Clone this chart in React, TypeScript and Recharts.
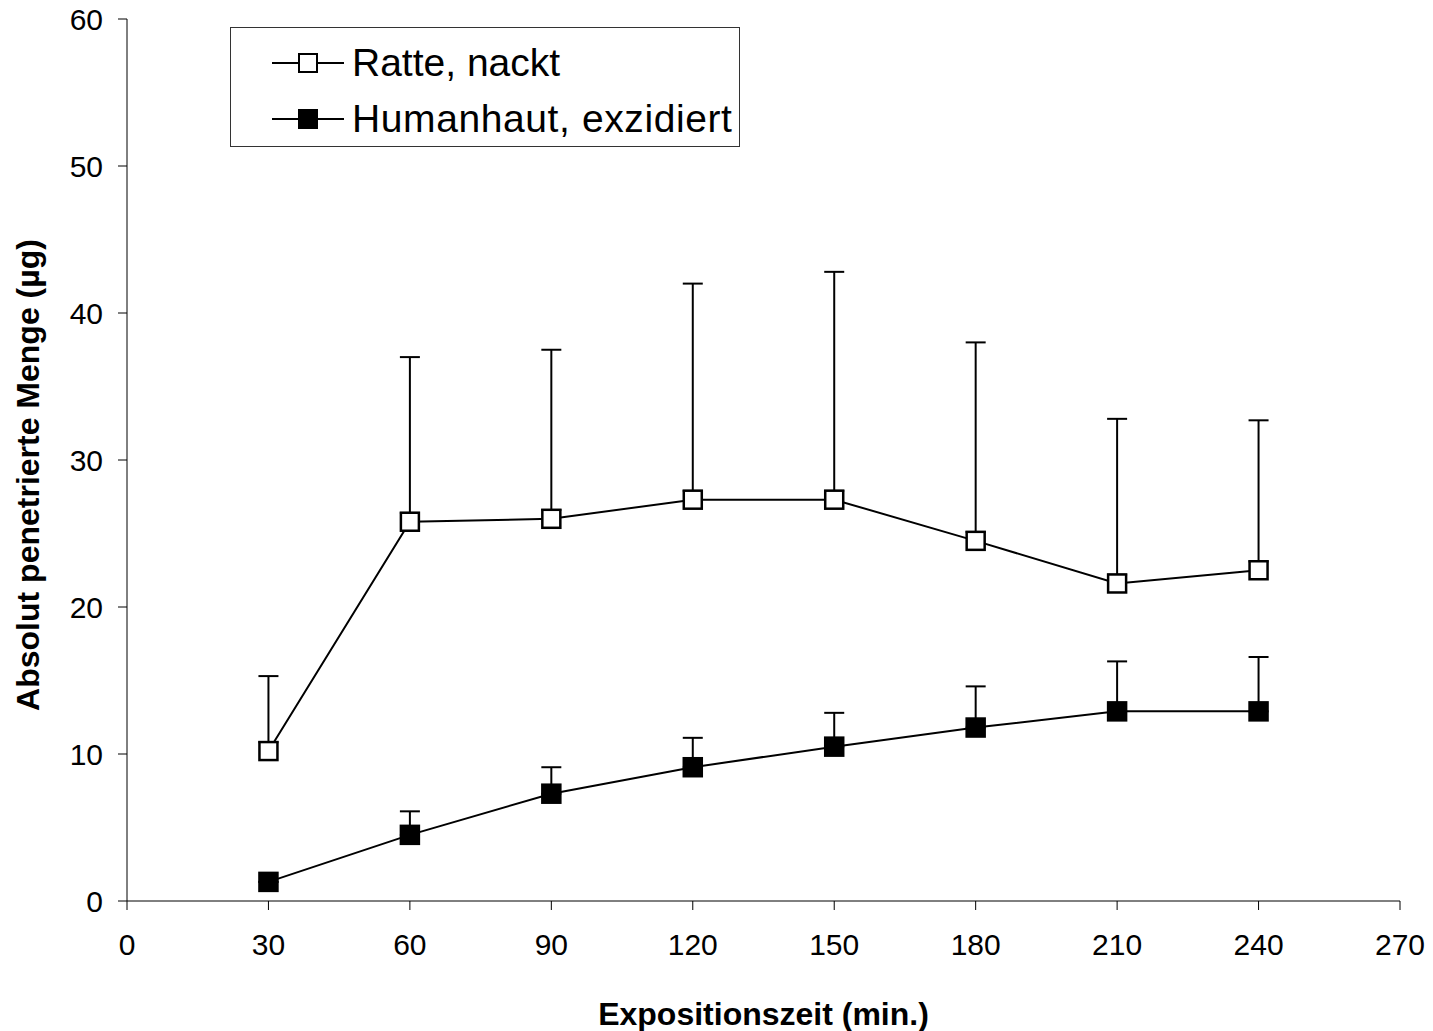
import React from 'react';
import { LineChart, Line, XAxis, YAxis, ErrorBar, Legend } from 'recharts';

const times = [30, 60, 90, 120, 150, 180, 210, 240];
const ratteMean = [10.2, 25.8, 26.0, 27.3, 27.3, 24.5, 21.6, 22.5];
const ratteUpper = [15.3, 37.0, 37.5, 42.0, 42.8, 38.0, 32.8, 32.7];
const humanMean = [1.3, 4.5, 7.3, 9.1, 10.5, 11.8, 12.9, 12.9];
const humanUpper = [1.3, 6.1, 9.1, 11.1, 12.8, 14.6, 16.3, 16.6];
const xTicks = [0, 30, 60, 90, 120, 150, 180, 210, 240, 270];
const yTicks = [0, 10, 20, 30, 40, 50, 60];

const seriesNames = ['Ratte, nackt', 'Humanhaut, exzidiert'];

// only the upper error is shown; start the bar at the top edge of the open marker
// (about half a marker, in y units) so nothing is drawn inside the white square
const MARKER_HALF = 0.6;

const data = times.map((t, i) => ({
  t,
  ratte: ratteMean[i],
  ratteErr: [-MARKER_HALF, +(ratteUpper[i] - ratteMean[i]).toFixed(2)],
  human: humanMean[i],
  humanErr: [0, +(humanUpper[i] - humanMean[i]).toFixed(2)],
}));

const FONT = '"Liberation Sans", Arial, sans-serif';

const squareDot = (filled: boolean) => (props: any) => {
  const { cx, cy, index } = props;
  if (cx == null || cy == null) return <g key={index} />;
  const s = 18;
  return (
    <rect
      key={index}
      x={cx - s / 2}
      y={cy - s / 2}
      width={s}
      height={s}
      fill={filled ? '#000' : '#fff'}
      stroke="#000"
      strokeWidth={2.5}
    />
  );
};

const LegendBox = () => (
  <div
    style={{
      position: 'relative',
      width: 510,
      height: 120,
      boxSizing: 'border-box',
      border: '1px solid #333',
      background: '#fff',
      fontFamily: FONT,
    }}
  >
    {seriesNames.map((name, i) => (
      <div
        key={name}
        style={{ position: 'absolute', left: 41, top: i === 0 ? 13 : 69, height: 44, display: 'flex', alignItems: 'center' }}
      >
        <svg width={74} height={24} style={{ display: 'block' }}>
          <line x1={0} y1={12} x2={72} y2={12} stroke="#000" strokeWidth={2} />
          <rect x={27} y={3} width={18} height={18} fill={i === 0 ? '#fff' : '#000'} stroke="#000" strokeWidth={2} />
        </svg>
        <span style={{ fontSize: 39, marginLeft: 6, color: '#000', whiteSpace: 'nowrap', letterSpacing: i === 0 ? 0 : 0.6 }}>{name}</span>
      </div>
    ))}
  </div>
);

const YLabel = () => (
  <text
    x={28}
    y={475}
    transform="rotate(-90, 28, 475)"
    textAnchor="middle"
    dominantBaseline="central"
    fontFamily={FONT}
    fontWeight="bold"
    fontSize={32}
    fill="#000"
  >
    Absolut penetrierte Menge (µg)
  </text>
);

export default function App() {
  return (
    <div style={{ position: 'absolute', left: 0, top: 0, background: '#fff' }}>
      <LineChart
        width={1433}
        height={1031}
        data={data}
        margin={{ top: 19, right: 33, left: 0, bottom: 0 }}
      >
        <XAxis
          dataKey="t"
          type="number"
          domain={[0, 270]}
          ticks={xTicks}
          interval={0}
          height={130}
          stroke="#000"
          tickSize={9}
          tickMargin={24}
          tick={{ fill: '#000', fontSize: 30, fontFamily: FONT }}
          label={{
            value: 'Expositionszeit (min.)',
            position: 'insideBottom',
            offset: 6,
            fill: '#000',
            fontSize: 32,
            fontWeight: 'bold',
            fontFamily: FONT,
          }}
        />
        <YAxis
          type="number"
          domain={[0, 60]}
          ticks={yTicks}
          interval={0}
          width={127}
          stroke="#000"
          tickSize={9}
          tickMargin={15}
          tick={{ fill: '#000', fontSize: 30, fontFamily: FONT }}
          label={<YLabel />}
        />
        <Legend
          layout="horizontal"
          verticalAlign="middle"
          align="center"
          wrapperStyle={{ left: 230, top: 27, width: 510, height: 120 }}
          content={() => <LegendBox />}
        />
        <Line
          dataKey="ratte"
          name={seriesNames[0]}
          stroke="#000"
          strokeWidth={2}
          dot={squareDot(false)}
          activeDot={false}
          isAnimationActive={false}
        >
          <ErrorBar dataKey="ratteErr" width={10} stroke="#000" strokeWidth={2} direction="y" />
        </Line>
        <Line
          dataKey="human"
          name={seriesNames[1]}
          stroke="#000"
          strokeWidth={2}
          dot={squareDot(true)}
          activeDot={false}
          isAnimationActive={false}
        >
          <ErrorBar dataKey="humanErr" width={10} stroke="#000" strokeWidth={2} direction="y" />
        </Line>
      </LineChart>
    </div>
  );
}
